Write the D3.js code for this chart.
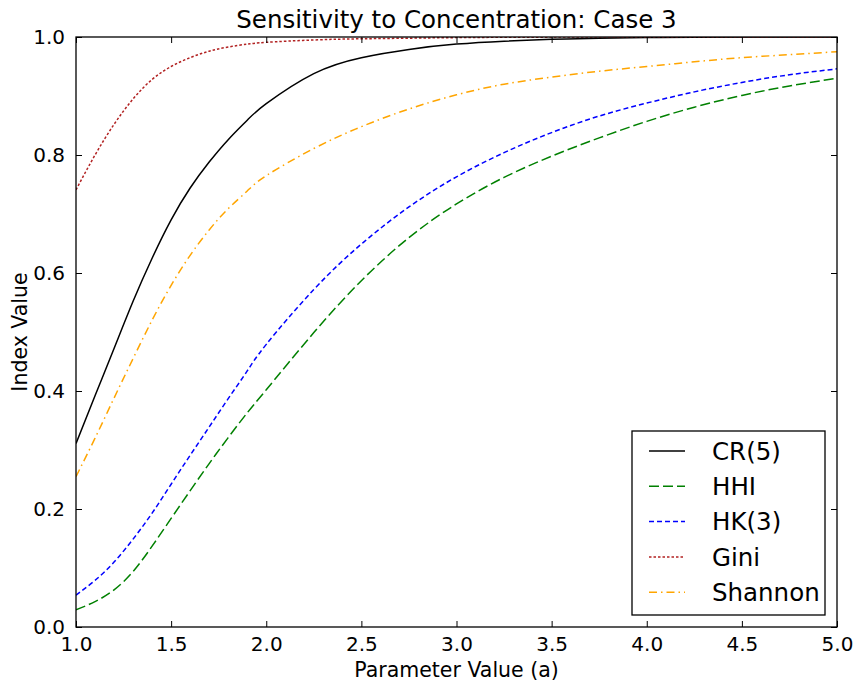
<!DOCTYPE html>
<html>
<head>
<meta charset="utf-8">
<script src="https://cdn.jsdelivr.net/npm/d3@7"></script>
<style>
  body { margin: 0; background: #fff; }
  text { font-family: 'DejaVu Sans', sans-serif; }
</style>
</head>
<body>
<div id="chart"></div>
<script>
// values
const aValues = [1.0, 1.1, 1.2, 1.3, 1.4, 1.5, 1.6, 1.7, 1.8, 1.9, 2.0,
  2.25, 2.5, 2.75, 3.0, 3.25, 3.5, 3.75, 4.0, 4.25, 4.5, 4.75, 5.0];

const cr5 = [0.311, 0.392, 0.472, 0.552, 0.625, 0.690, 0.744, 0.788, 0.826, 0.859, 0.887,
  0.938, 0.965, 0.979, 0.988, 0.993, 0.996, 0.998, 0.999, 0.9995, 0.9998, 0.9999, 1.0];
const hhi = [0.029, 0.043, 0.063, 0.094, 0.137, 0.184, 0.231, 0.277, 0.321, 0.363, 0.402,
  0.499, 0.587, 0.660, 0.717, 0.762, 0.798, 0.829, 0.857, 0.881, 0.901, 0.917, 0.930];
const hk3 = [0.054, 0.079, 0.110, 0.149, 0.193, 0.242, 0.291, 0.339, 0.387, 0.434, 0.479,
  0.572, 0.649, 0.712, 0.763, 0.804, 0.838, 0.866, 0.888, 0.907, 0.923, 0.936, 0.946];
const gini = [0.741, 0.800, 0.852, 0.895, 0.928, 0.950, 0.965, 0.976, 0.983, 0.988, 0.991,
  0.995, 0.997, 0.998, 0.999, 0.9995, 0.9998, 0.9999, 1.0, 1.0, 1.0, 1.0, 1.0];
const shannon = [0.255, 0.320, 0.388, 0.455, 0.520, 0.579, 0.630, 0.673, 0.709, 0.739, 0.765,
  0.811, 0.848, 0.878, 0.902, 0.920, 0.932, 0.942, 0.950, 0.958, 0.965, 0.970, 0.975];

const seriesNames = ['CR(5)', 'HHI', 'HK(3)', 'Gini', 'Shannon'];
const seriesValues = [cr5, hhi, hk3, gini, shannon];
const seriesColors = ['#000000', '#008000', '#0000ff', '#b22222', '#ffa500'];
const seriesDashes = [null, '10,4', '5,3', '2.5,2', '8,4,1.5,4'];

const xTicks = [1.0, 1.5, 2.0, 2.5, 3.0, 3.5, 4.0, 4.5, 5.0];
const yTicks = [0.0, 0.2, 0.4, 0.6, 0.8, 1.0];

const width = 858, height = 685;
const margin = { top: 37, right: 21, bottom: 58, left: 76 };
const innerW = width - margin.left - margin.right;
const innerH = height - margin.top - margin.bottom;

const svg = d3
  .select('#chart')
  .append('svg')
  .attr('width', width)
  .attr('height', height);

const x = d3.scaleLinear().domain([1, 5]).range([0, innerW]);
const y = d3.scaleLinear().domain([0, 1]).range([innerH, 0]);

const g = svg
  .append('g')
  .attr('transform', `translate(${margin.left},${margin.top})`);

g.append('clipPath')
  .attr('id', 'plotClip')
  .append('rect')
  .attr('width', innerW)
  .attr('height', innerH);

const line = d3
  .line()
  .x((d) => x(d[0]))
  .y((d) => y(d[1]))
  .curve(d3.curveNatural);

g.append('g')
  .attr('clip-path', 'url(#plotClip)')
  .selectAll('path')
  .data(seriesValues)
  .join('path')
  .attr('fill', 'none')
  .attr('stroke', (d, i) => seriesColors[i])
  .attr('stroke-width', 1.5)
  .attr('stroke-dasharray', (d, i) => seriesDashes[i])
  .attr('d', (vals) => line(vals.map((v, j) => [aValues[j], v])));

// axes, ticks pointing inward on all four sides
const fmt = d3.format('.1f');
const tickStyle = (sel) => {
  sel.select('.domain').remove();
  sel.selectAll('line').attr('stroke', '#000').attr('stroke-width', 1);
  sel.selectAll('text')
    .attr('font-size', '20px')
    .attr('fill', '#000');
};

g.append('g')
  .attr('transform', `translate(0,${innerH})`)
  .call(d3.axisBottom(x).tickValues(xTicks).tickFormat(fmt)
    .tickSizeInner(-6).tickSizeOuter(0).tickPadding(10))
  .call(tickStyle);

g.append('g')
  .call(d3.axisTop(x).tickValues(xTicks).tickFormat('')
    .tickSizeInner(-6).tickSizeOuter(0))
  .call(tickStyle);

g.append('g')
  .call(d3.axisLeft(y).tickValues(yTicks).tickFormat(fmt)
    .tickSizeInner(-6).tickSizeOuter(0).tickPadding(11))
  .call(tickStyle);

g.append('g')
  .attr('transform', `translate(${innerW},0)`)
  .call(d3.axisRight(y).tickValues(yTicks).tickFormat('')
    .tickSizeInner(-6).tickSizeOuter(0))
  .call(tickStyle);

g.append('rect')
  .attr('width', innerW)
  .attr('height', innerH)
  .attr('fill', 'none')
  .attr('stroke', '#000')
  .attr('stroke-width', 1.3);

// title + axis labels
svg.append('text')
  .attr('x', margin.left + innerW / 2)
  .attr('y', 28)
  .attr('text-anchor', 'middle')
  .attr('font-size', '24.5px')
  .text('Sensitivity to Concentration: Case 3');

svg.append('text')
  .attr('x', margin.left + innerW / 2)
  .attr('y', 677)
  .attr('text-anchor', 'middle')
  .attr('font-size', '20.5px')
  .text('Parameter Value (a)');

svg.append('text')
  .attr('transform', `translate(27,${margin.top + innerH / 2}) rotate(-90)`)
  .attr('text-anchor', 'middle')
  .attr('font-size', '20.5px')
  .text('Index Value');

// legend
const legend = svg.append('g').attr('transform', 'translate(632,431)');

legend.append('rect')
  .attr('width', 193)
  .attr('height', 184)
  .attr('fill', '#fff')
  .attr('stroke', '#000')
  .attr('stroke-width', 1.3);

const rows = legend
  .selectAll('g.row')
  .data(seriesNames)
  .join('g')
  .attr('class', 'row')
  .attr('transform', (d, i) => `translate(0,${20 + i * 35.3})`);

rows.append('line')
  .attr('x1', 17)
  .attr('x2', 53)
  .attr('stroke', (d, i) => seriesColors[i])
  .attr('stroke-width', 1.5)
  .attr('stroke-dasharray', (d, i) => seriesDashes[i]);

rows.append('text')
  .attr('x', 80)
  .attr('dy', '0.36em')
  .attr('font-size', '24.5px')
  .text((d) => d);
</script>
</body>
</html>
